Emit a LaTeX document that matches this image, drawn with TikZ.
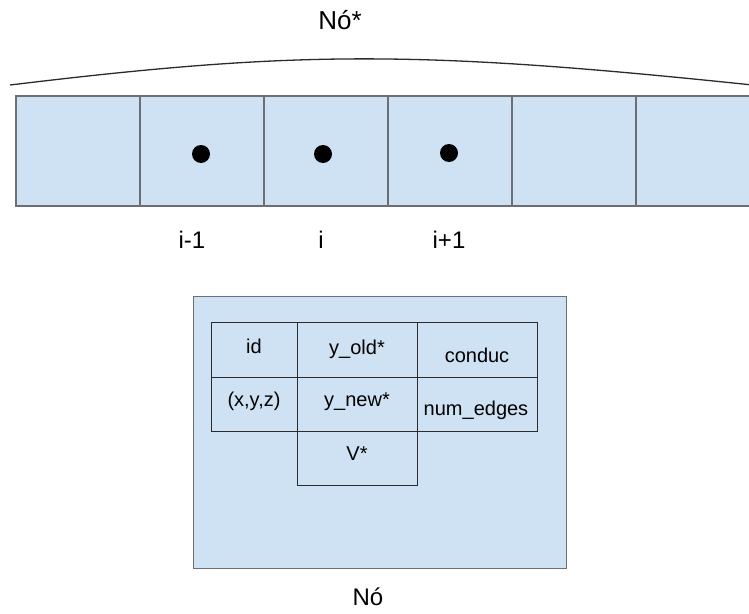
\documentclass[tikz,border=0pt]{standalone}
\usepackage{fontspec}
\setmainfont{Liberation Sans}
\definecolor{cellfill}{HTML}{CFE2F3}
\definecolor{frame}{HTML}{6B6F75}
\definecolor{rule}{HTML}{2B2B2B}
\begin{document}
\begin{tikzpicture}[x=1pt,y=-1pt,
  arraycell/.style={draw=frame,line width=1.3pt,fill=cellfill,minimum width=124pt,minimum height=110pt,inner sep=0pt,outer sep=0pt,anchor=north west},
  field/.style={draw=rule,line width=0.9pt,inner sep=0pt,outer sep=0pt,anchor=north west},
  dotmark/.style={circle,fill=black,inner sep=0pt,minimum size=18pt},
  lbl/.style={inner sep=0pt,anchor=base,font=\fontsize{24}{28}\selectfont},
  ftxt/.style={inner sep=0pt,anchor=base,font=\fontsize{20}{24}\selectfont}]
\useasboundingbox (0,0) rectangle (749,613);
\fill[white] (0,0) rectangle (749,613);

% title and brace-like arc above the array
\node[lbl,font=\fontsize{26}{30}\selectfont] (ptrlabel) at (340,29) {Nó*};
\coordinate (arcL) at (10,85);
\coordinate (arcR) at (762,86);
\draw[line width=1.3pt,draw=rule] (arcL) .. controls (300,50) and (420,50) .. (arcR);

% array of nodes
\foreach \k in {0,...,5}{
  \node[arraycell] (c\k) at ({16+124*\k},96) {};
}
\draw[draw=frame,line width=1.4pt] (c0.north west) rectangle (c5.south east);

% marked elements
\node[dotmark] (d1) at (201,154) {};
\node[dotmark] (d2) at (323,154) {};
\node[dotmark] (d3) at (449,153) {};

\node[lbl] (im1) at (192,248) {i-1};
\node[lbl] (i0) at (321,248) {i};
\node[lbl] (ip1) at (449,248) {i+1};

% structure of one node
\node[draw=frame,line width=1.3pt,fill=cellfill,minimum width=373pt,minimum height=272pt,inner sep=0pt,anchor=north west] (nodebox) at (193,296) {};

\node[field,minimum width=86pt,minimum height=55pt] (fid) at (211,322) {};
\node[field,minimum width=120pt,minimum height=55pt] (fyold) at (297,322) {};
\node[field,minimum width=120pt,minimum height=55pt] (fcond) at (417,322) {};
\node[field,minimum width=86pt,minimum height=54pt] (fxyz) at (211,377) {};
\node[field,minimum width=120pt,minimum height=54pt] (fynew) at (297,377) {};
\node[field,minimum width=120pt,minimum height=54pt] (fedges) at (417,377) {};
\node[field,minimum width=120pt,minimum height=54pt] (fv) at (297,431) {};

\node[ftxt] (tid) at (254,353) {id};
\node[ftxt] (tyold) at (357,354) {y\_old*};
\node[ftxt] (tcond) at (477,362) {conduc};
\node[ftxt] (txyz) at (254,406) {(x,y,z)};
\node[ftxt] (tynew) at (357,406) {y\_new*};
\node[ftxt] (tedges) at (476,415) {num\_edges};
\node[ftxt] (tv) at (357,460) {V*};

\node[lbl] (nodelabel) at (368,605) {Nó};
\end{tikzpicture}
\end{document}
